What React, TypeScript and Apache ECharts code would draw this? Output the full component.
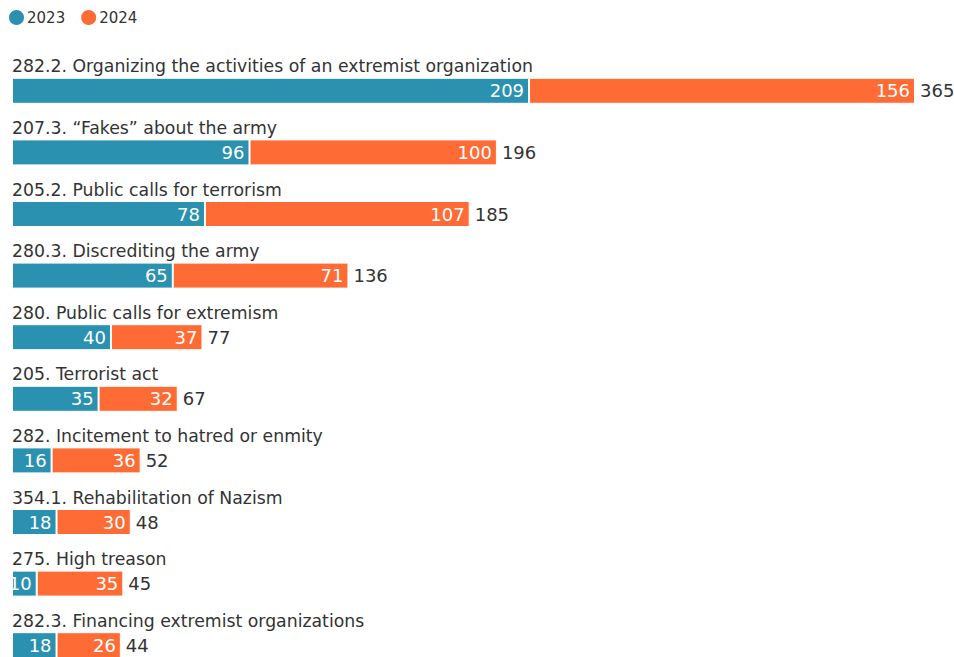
import React, { useEffect, useRef } from "react";
import * as echarts from "echarts";

const categories = [
  "282.2. Organizing the activities of an extremist organization",
  "207.3. “Fakes” about the army",
  "205.2. Public calls for terrorism",
  "280.3. Discrediting the army",
  "280. Public calls for extremism",
  "205. Terrorist act",
  "282. Incitement to hatred or enmity",
  "354.1. Rehabilitation of Nazism",
  "275. High treason",
  "282.3. Financing extremist organizations",
];
const values2023 = [209, 96, 78, 65, 40, 35, 16, 18, 10, 18];
const values2024 = [156, 100, 107, 71, 37, 32, 36, 30, 35, 26];
const totals = [365, 196, 185, 136, 77, 67, 52, 48, 45, 44];

const FONT = "DejaVu Sans";
const TEAL = "#2a91b0";
const ORANGE = "#ff6b35";

export default function App() {
  const ref = useRef<HTMLDivElement>(null);
  useEffect(() => {
    if (!ref.current) return;
    const chart = echarts.init(ref.current, undefined, { renderer: "svg" });
    chart.setOption({
      animation: false,
      textStyle: { fontFamily: FONT },
      legend: {
        data: ["2023", "2024"],
        left: 7,
        top: 8,
        padding: 0,
        icon: "circle",
        itemWidth: 17,
        itemHeight: 17,
        itemGap: 14,
        textStyle: { fontFamily: FONT, fontSize: 15, color: "#333", padding: [0, 0, 0, -3] },
      },
      grid: {
        left: 12,
        right: 39,
        top: 60,
        height: 616,
        containLabel: false,
        outerBoundsMode: "none",
      },
      xAxis: {
        type: "value",
        min: 0,
        max: 365,
        show: false,
      },
      yAxis: {
        type: "category",
        data: categories,
        inverse: true,
        axisLine: { show: false },
        axisTick: { show: false },
        axisLabel: {
          inside: true,
          margin: 0,
          align: "left",
          verticalAlign: "bottom",
          padding: [0, 0, 16, 0],
          fontFamily: FONT,
          fontSize: 17.3,
          color: "#333",
        },
      },
      series: [
        {
          name: "2023",
          type: "bar",
          stack: "t",
          data: values2023,
          barWidth: 26,
          itemStyle: { color: TEAL, borderColor: "#fff", borderWidth: 1 },
          label: {
            show: true,
            position: "insideRight",
            distance: 5,
            color: "#fff",
            fontFamily: FONT,
            fontSize: 18,
          },
        },
        {
          name: "2024",
          type: "bar",
          stack: "t",
          data: values2024,
          barWidth: 26,
          itemStyle: { color: ORANGE, borderColor: "#fff", borderWidth: 1 },
          label: {
            show: true,
            position: "insideRight",
            distance: 5,
            color: "#fff",
            fontFamily: FONT,
            fontSize: 18,
          },
        },
        {
          name: "total",
          type: "bar",
          stack: "t",
          data: totals.map(() => 0),
          barWidth: 26,
          itemStyle: { color: "transparent" },
          label: {
            show: true,
            position: "right",
            distance: 5,
            color: "#333",
            fontFamily: FONT,
            fontSize: 18,
            formatter: (p: any) => String(totals[p.dataIndex]),
          },
        },
      ],
    });
    return () => chart.dispose();
  }, []);
  return (
    <div
      ref={ref}
      style={{ position: "fixed", left: 0, top: 0, width: 954, height: 657, background: "#fff" }}
    />
  );
}
